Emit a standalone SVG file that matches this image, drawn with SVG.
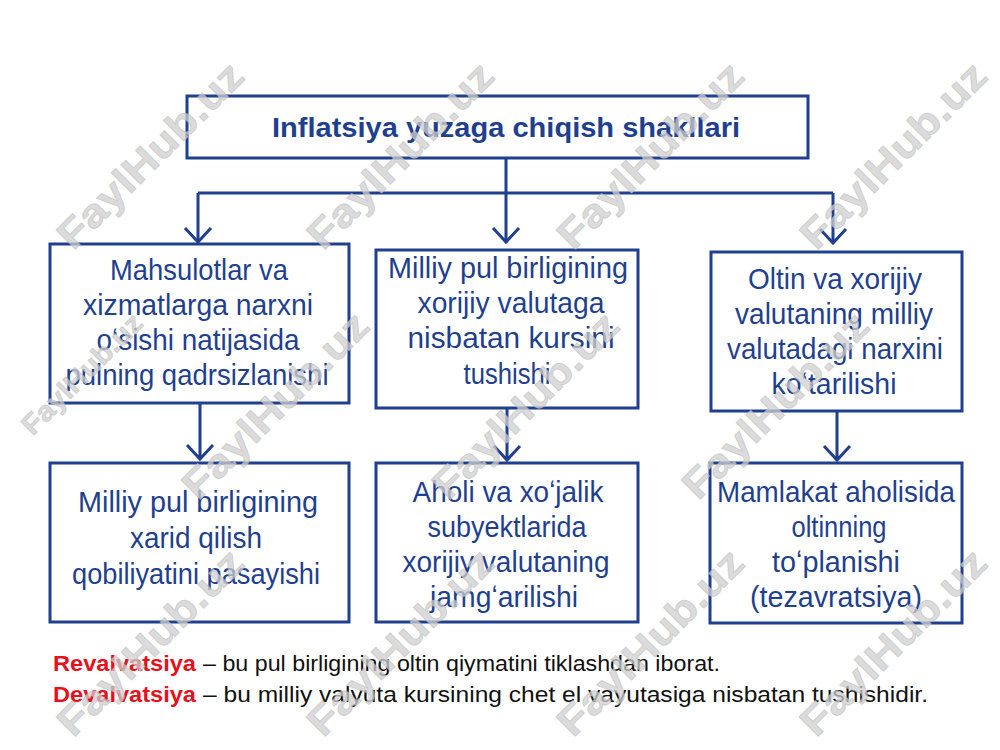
<svg xmlns="http://www.w3.org/2000/svg" width="1000" height="750" viewBox="0 0 1000 750">
<defs>
<style>
.box{fill:#fff;stroke:#1f3f8f;stroke-width:3}
.t{font-family:"Liberation Sans",Arial,sans-serif;font-size:29px;fill:#1f3f8f;text-anchor:middle}
.title{font-family:"Liberation Sans",Arial,sans-serif;font-size:28px;font-weight:bold;fill:#1f3f8f;text-anchor:middle}
.con{fill:none;stroke:#1f3f8f;stroke-width:3;stroke-linejoin:miter}
.red{font-family:"Liberation Sans",Arial,sans-serif;font-size:22px;font-weight:bold;fill:#e8101a}
.blk{font-family:"Liberation Sans",Arial,sans-serif;font-size:22px;fill:#111}
.wm{font-family:"Liberation Sans",Arial,sans-serif;font-size:40px;font-weight:bold;fill:#cfcfcf;fill-opacity:0.75;stroke:#b8b8b8;stroke-opacity:0.6;stroke-width:0.8;text-anchor:middle;dominant-baseline:central}
.wms{font-size:28px}
</style>
</defs>
<rect width="1000" height="750" fill="#fff"/>

<g id="connectors">
<path class="con" d="M506,158 V242 M198,193 H833 M198,193 V242 M833,193 V243"/>
<path class="con" d="M185,228 L198,242 L211,228 M493,228 L506,242 L519,228 M820,229 L833,243 L846,229"/>
<path class="con" d="M200,403 V459 M187,445 L200,459 L213,445"/>
<path class="con" d="M507,408 V460 M494,446 L507,460 L520,446"/>
<path class="con" d="M837,411 V460 M824,446 L837,460 L850,446"/>
</g>

<g id="title">
<rect class="box" x="187" y="96" width="621" height="62"/>
<text class="title" x="506" y="137" textLength="468" lengthAdjust="spacingAndGlyphs">Inflatsiya yuzaga chiqish shakllari</text>
</g>

<g id="n1">
<rect class="box" x="50" y="244" width="299" height="159"/>
<text class="t" x="199" y="280" textLength="178" lengthAdjust="spacingAndGlyphs">Mahsulotlar va</text>
<text class="t" x="198" y="315" textLength="230" lengthAdjust="spacingAndGlyphs">xizmatlarga  narxni</text>
<text class="t" x="198" y="350" textLength="203" lengthAdjust="spacingAndGlyphs">oʻsishi natijasida</text>
<text class="t" x="197" y="385" textLength="263" lengthAdjust="spacingAndGlyphs">pulning  qadrsizlanishi</text>
</g>

<g id="n2">
<rect class="box" x="376" y="250" width="262" height="158"/>
<text class="t" x="508" y="278" textLength="240" lengthAdjust="spacingAndGlyphs">Milliy pul birligining</text>
<text class="t" x="511" y="313" textLength="187" lengthAdjust="spacingAndGlyphs">xorijiy valutaga</text>
<text class="t" x="511" y="348" textLength="207" lengthAdjust="spacingAndGlyphs">nisbatan kursini</text>
<text class="t" x="507" y="384" textLength="87" lengthAdjust="spacingAndGlyphs">tushishi</text>
</g>

<g id="n3">
<rect class="box" x="711" y="252" width="251" height="159"/>
<text class="t" x="835" y="289" textLength="174" lengthAdjust="spacingAndGlyphs">Oltin va xorijiy</text>
<text class="t" x="834" y="324" textLength="198" lengthAdjust="spacingAndGlyphs">valutaning milliy</text>
<text class="t" x="835" y="359" textLength="216" lengthAdjust="spacingAndGlyphs">valutadagi  narxini</text>
<text class="t" x="834" y="394" textLength="125" lengthAdjust="spacingAndGlyphs">koʻtarilishi</text>
</g>

<g id="n4">
<rect class="box" x="50" y="463" width="299" height="159"/>
<text class="t" x="198" y="512" textLength="240" lengthAdjust="spacingAndGlyphs">Milliy pul birligining</text>
<text class="t" x="196" y="548" textLength="132" lengthAdjust="spacingAndGlyphs">xarid qilish</text>
<text class="t" x="196" y="584" textLength="248" lengthAdjust="spacingAndGlyphs">qobiliyatini pasayishi</text>
</g>

<g id="n5">
<rect class="box" x="376" y="463" width="262" height="159"/>
<text class="t" x="508" y="502" textLength="191" lengthAdjust="spacingAndGlyphs">Aholi va xoʻjalik</text>
<text class="t" x="507" y="537" textLength="159" lengthAdjust="spacingAndGlyphs">subyektlarida</text>
<text class="t" x="506" y="572" textLength="207" lengthAdjust="spacingAndGlyphs">xorijiy valutaning</text>
<text class="t" x="504" y="607" textLength="148" lengthAdjust="spacingAndGlyphs">jamgʻarilishi</text>
</g>

<g id="n6">
<rect class="box" x="710" y="463" width="252" height="160"/>
<text class="t" x="836" y="502" textLength="238" lengthAdjust="spacingAndGlyphs">Mamlakat aholisida</text>
<text class="t" x="839" y="537" textLength="95" lengthAdjust="spacingAndGlyphs">oltinning</text>
<text class="t" x="836" y="572" textLength="128" lengthAdjust="spacingAndGlyphs">toʻplanishi</text>
<text class="t" x="836" y="607" textLength="172" lengthAdjust="spacingAndGlyphs">(tezavratsiya)</text>
</g>

<g id="notes">
<text class="red" x="53" y="671" textLength="143" lengthAdjust="spacingAndGlyphs">Revalvatsiya</text>
<text class="blk" x="203" y="671" textLength="517" lengthAdjust="spacingAndGlyphs">– bu pul birligining oltin qiymatini tiklashdan iborat.</text>
<text class="red" x="53" y="702" textLength="143" lengthAdjust="spacingAndGlyphs">Devalvatsiya</text>
<text class="blk" x="203" y="702" textLength="725" lengthAdjust="spacingAndGlyphs">– bu milliy valyuta kursining chet el vayutasiga nisbatan tushishidir.</text>
</g>

<g id="watermarks">
<text class="wm" transform="translate(150,155) rotate(-45)" textLength="245" lengthAdjust="spacingAndGlyphs">FaylHub.uz</text>
<text class="wm" transform="translate(400,155) rotate(-45)" textLength="245" lengthAdjust="spacingAndGlyphs">FaylHub.uz</text>
<text class="wm" transform="translate(650,155) rotate(-45)" textLength="245" lengthAdjust="spacingAndGlyphs">FaylHub.uz</text>
<text class="wm" transform="translate(893,155) rotate(-45)" textLength="245" lengthAdjust="spacingAndGlyphs">FaylHub.uz</text>
<text class="wm wms" transform="translate(82,374) rotate(-45)" textLength="158" lengthAdjust="spacingAndGlyphs">FaylHub.uz</text>
<text class="wm" transform="translate(275,405) rotate(-45)" textLength="245" lengthAdjust="spacingAndGlyphs">FaylHub.uz</text>
<text class="wm" transform="translate(525,405) rotate(-45)" textLength="245" lengthAdjust="spacingAndGlyphs">FaylHub.uz</text>
<text class="wm" transform="translate(775,405) rotate(-45)" textLength="245" lengthAdjust="spacingAndGlyphs">FaylHub.uz</text>
<text class="wm" transform="translate(150,642) rotate(-45)" textLength="245" lengthAdjust="spacingAndGlyphs">FaylHub.uz</text>
<text class="wm" transform="translate(400,642) rotate(-45)" textLength="245" lengthAdjust="spacingAndGlyphs">FaylHub.uz</text>
<text class="wm" transform="translate(650,642) rotate(-45)" textLength="245" lengthAdjust="spacingAndGlyphs">FaylHub.uz</text>
<text class="wm" transform="translate(893,642) rotate(-45)" textLength="245" lengthAdjust="spacingAndGlyphs">FaylHub.uz</text>
</g>
</svg>
